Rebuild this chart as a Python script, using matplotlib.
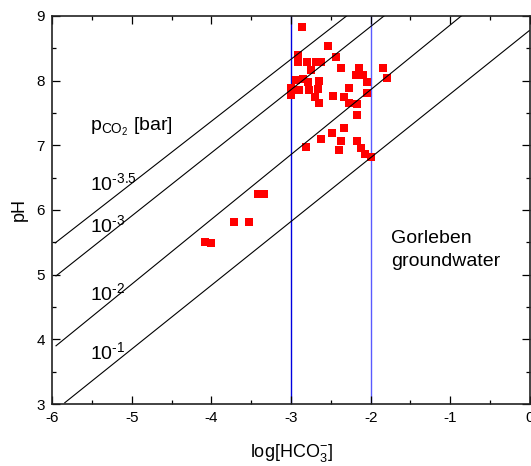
import matplotlib
matplotlib.use("Agg")
import matplotlib.pyplot as plt
from matplotlib.ticker import MultipleLocator

plt.rcParams["font.family"] = ["Liberation Sans", "DejaVu Sans"]
plt.rcParams["mathtext.fontset"] = "custom"
plt.rcParams["mathtext.rm"] = "Liberation Sans"
plt.rcParams["mathtext.it"] = "Liberation Sans"
plt.rcParams["mathtext.bf"] = "Liberation Sans:bold"
plt.rcParams["axes.unicode_minus"] = False

# Gorleben groundwater samples: log[HCO3-] and pH
log_hco3 = [-2.86, -2.54, -2.91, -2.91, -2.44, -2.80, -2.68, -2.62, -2.75, -2.37,
            -2.15, -2.18, -2.09, -1.84, -1.79, -2.04, -2.94, -2.85, -2.79, -2.65,
            -3.00, -3.00, -2.90, -2.77, -2.66, -2.70, -2.65, -2.47, -2.33, -2.27,
            -2.27, -2.17, -2.05, -2.17, -2.33, -2.49, -2.62, -2.81, -2.37, -2.40,
            -2.17, -2.12, -2.07, -1.99,
            -3.42, -3.34, -3.72, -3.53, -4.08, -4.00]
ph = [8.83, 8.53, 8.40, 8.29, 8.36, 8.28, 8.28, 8.28, 8.17, 8.19,
      8.20, 8.09, 8.09, 8.20, 8.04, 7.98, 8.01, 8.03, 7.98, 8.00,
      7.88, 7.78, 7.86, 7.86, 7.87, 7.75, 7.65, 7.76, 7.75, 7.88,
      7.65, 7.64, 7.81, 7.47, 7.26, 7.19, 7.09, 6.98, 7.07, 6.93,
      7.07, 6.96, 6.86, 6.82,
      6.25, 6.24, 5.82, 5.82, 5.50, 5.49]

# pCO2 isolines (start and end points)
iso_labels = [r"10$^{\text{-3.5}}$", r"10$^{\text{-3}}$",
              r"10$^{\text{-2}}$", r"10$^{\text{-1}}$"]
iso_x = [(-5.96, -2.30), (-5.95, -1.83), (-5.95, -0.86), (-5.84, -0.01)]
iso_y = [(5.49, 9.0), (4.98, 9.0), (3.90, 9.0), (3.02, 8.77)]
iso_label_y = [6.30, 5.66, 4.61, 3.70]

# range of Gorleben groundwater
vlines_x = [-3, -2]
vlines_c = ["#0000e0", "#5a5aff"]

fig = plt.figure(figsize=(5.31, 4.66), dpi=100)
ax = fig.add_axes([0.098, 0.133, 0.900, 0.833])

for xv, c in zip(vlines_x, vlines_c):
    ax.axvline(xv, color=c, lw=1.0, zorder=1)

ax.plot(log_hco3, ph, "s", color="#ff0000", ms=6.3, mew=0, zorder=2)

for xs, ys in zip(iso_x, iso_y):
    ax.plot(xs, ys, color="black", lw=0.8, zorder=3)

for lab, yv in zip(iso_labels, iso_label_y):
    ax.text(-5.52, yv, lab, fontsize=14, va="baseline", ha="left")
ax.text(-5.52, 7.22, r"p$_{\mathregular{CO_2}}$ [bar]", fontsize=14,
        va="baseline", ha="left")
ax.text(-1.74, 5.49, "Gorleben", fontsize=14, va="baseline", ha="left")
ax.text(-1.74, 5.14, "groundwater", fontsize=14, va="baseline", ha="left")

ax.set_xlim(-6, 0)
ax.set_ylim(3, 9)
ax.xaxis.set_major_locator(MultipleLocator(1))
ax.xaxis.set_minor_locator(MultipleLocator(0.5))
ax.yaxis.set_major_locator(MultipleLocator(1))
ax.yaxis.set_minor_locator(MultipleLocator(0.5))
ax.tick_params(which="both", direction="in", top=True, right=True,
               width=0.9, labelsize=11, pad=5)
ax.tick_params(which="major", length=5.5)
ax.tick_params(which="minor", length=2.6)
for sp in ax.spines.values():
    sp.set_linewidth(1.2)
    sp.set_color("#222222")

ax.set_xlabel(r"log[HCO$_3^{-}$]", fontsize=13, labelpad=12)
ax.set_ylabel("pH", fontsize=13, labelpad=6)

fig.savefig("out.png", dpi=100)
